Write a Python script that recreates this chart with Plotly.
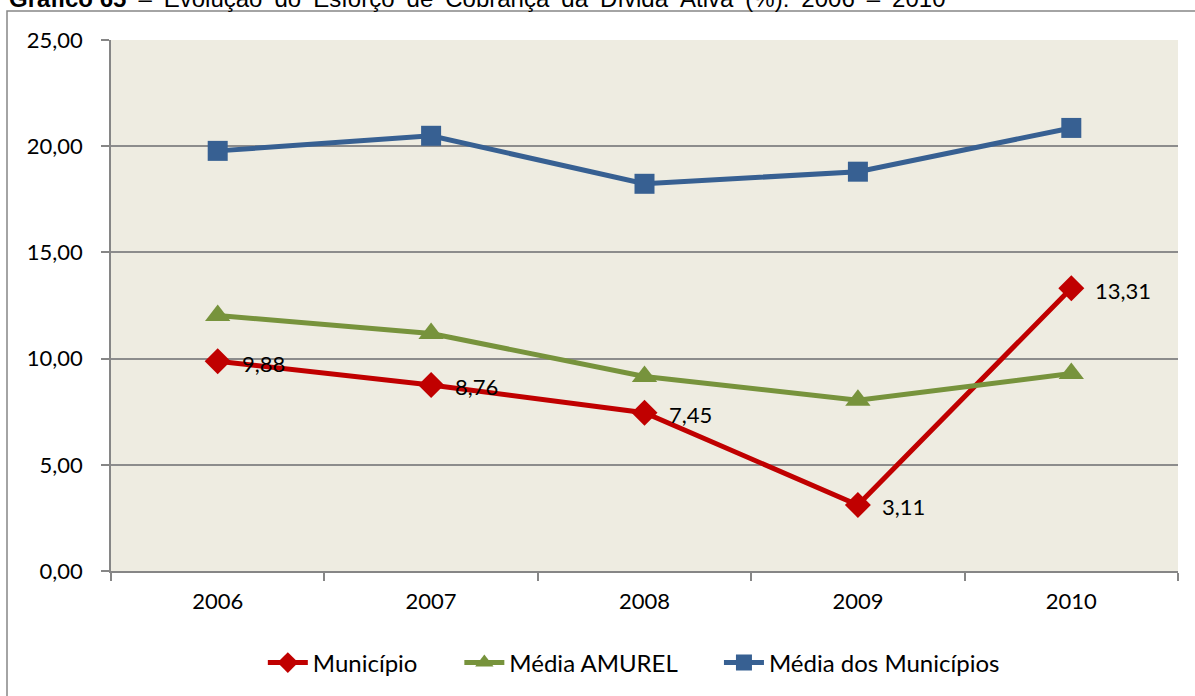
import plotly.graph_objects as go

years = ["2006", "2007", "2008", "2009", "2010"]
municipio = [9.88, 8.76, 7.45, 3.11, 13.31]
media_amurel = [12.03, 11.18, 9.16, 8.04, 9.30]
media_municipios = [19.78, 20.49, 18.23, 18.80, 20.86]
municipio_labels = ["9,88", "8,76", "7,45", "3,11", "13,31"]
series_names = ["Município", "Média AMUREL", "Média dos Municípios"]
title_bold = "Gráfico 65"
title_rest = " – Evolução do Esforço de Cobrança da Dívida Ativa (%): 2006 – 2010"

FONT = "Lato"
RED = "#C00000"
GREEN = "#77933C"
BLUE = "#376092"
GRID = "#8C8C8C"
PAD = "\u00a0" * 6  # extra gap between legend entries

fig = go.Figure()
fig.add_trace(go.Scatter(
    x=years, y=municipio, name=series_names[0] + PAD, mode="lines+markers",
    line=dict(color=RED, width=5),
    marker=dict(symbol="diamond", size=20, color=RED),
))
fig.add_trace(go.Scatter(
    x=years, y=media_amurel, name=series_names[1] + PAD, mode="lines+markers",
    line=dict(color=GREEN, width=5),
    marker=dict(symbol="triangle-up", size=22, color=GREEN),
))
fig.add_trace(go.Scatter(
    x=years, y=media_municipios, name=series_names[2], mode="lines+markers",
    line=dict(color=BLUE, width=5),
    marker=dict(symbol="square", size=20, color=BLUE),
))

for i, (yv, lab) in enumerate(zip(municipio, municipio_labels)):
    fig.add_annotation(x=i, y=yv, text=lab, showarrow=False, xanchor="left",
                       yanchor="middle", xshift=22, yshift=-2,
                       font=dict(family=FONT, size=22, color="#000000"))

# title, cut off at the top of the page (justified text -> wider spaces)
title_html = "<b>" + title_bold + "</b>" + title_rest.replace(" ", "\u2002")
fig.add_annotation(x=(7 - 111) / 1067, y=1, xref="paper", yref="paper", text=title_html,
                   showarrow=False, xanchor="left", yanchor="bottom", yshift=26,
                   font=dict(family="Liberation Sans, Arial", size=24, color="#000000"))

# outer chart border
fig.add_shape(type="rect", xref="paper", yref="paper",
              x0=(7 - 111) / 1067, y0=-0.5, x1=1.2, y1=1 + (40 - 11) / 532,
              line=dict(color="#868686", width=1.5), fillcolor="rgba(0,0,0,0)", layer="below")

fig.update_layout(
    width=1195, height=696,
    margin=dict(l=111, r=17, t=40, b=124),
    paper_bgcolor="#FFFFFF",
    plot_bgcolor="#EEECE1",
    separators=",.",
    font=dict(family=FONT, size=22, color="#000000"),
    showlegend=True,
    legend=dict(orientation="h", x=0.49, xanchor="center", y=-0.171, yanchor="middle",
                font=dict(family=FONT, size=24), bgcolor="rgba(0,0,0,0)",
                itemwidth=40, tracegroupgap=0),
)
fig.update_xaxes(
    type="category", range=[-0.5, 4.5], tickson="boundaries",
    ticks="outside", ticklen=8, tickcolor="#868686", tickwidth=1.5,
    showline=True, linecolor="#868686", linewidth=1.5,
    showgrid=False, ticklabelstandoff=10,
    tickfont=dict(family=FONT, size=22),
)
fig.update_yaxes(
    range=[0, 25], dtick=5, tickformat=".2f",
    ticks="outside", ticklen=8, tickcolor="#868686", tickwidth=1.5,
    showline=True, linecolor="#868686", linewidth=1.5,
    showgrid=True, gridcolor=GRID, gridwidth=1.5,
    zeroline=False, ticklabelstandoff=14,
    tickfont=dict(family=FONT, size=22),
)

fig.write_html("out.html", config={"displayModeBar": False},
               post_script="document.body.style.margin='0';")
